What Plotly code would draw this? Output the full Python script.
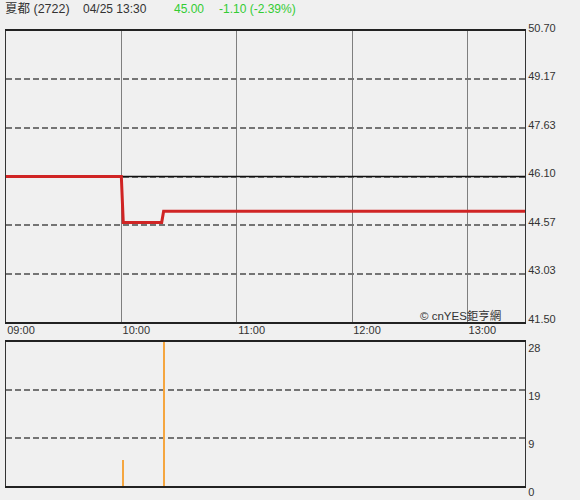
import plotly.graph_objects as go

# ---- data ----
stock_name = "夏都 (2722)"
stamp = "04/25 13:30"
last_price = "45.00"
change_text = "-1.10 (-2.39%)"
day = "2024-04-25 "

price_times = ["09:00", "10:00", "10:01", "10:21", "10:22", "13:30"]
price_values = [46.10, 46.10, 44.65, 44.65, 45.00, 45.00]
prev_close = 46.10

vol_times = ["10:01", "10:22"]
vol_values = [5, 28]

x_ticks = ["09:00", "10:00", "11:00", "12:00", "13:00"]
session = ["09:00", "13:30"]

price_tick_vals = [41.50, 43.03, 44.57, 46.10, 47.63, 49.17, 50.70]
price_tick_text = ["41.50", "43.03", "44.57", "46.10", "47.63", "49.17", "50.70"]
price_range = [41.50, 50.70]

vol_tick_vals = [0, 9.333, 18.667, 28]
vol_tick_text = ["0", "9", "19", "28"]
vol_range = [0, 28]

# ---- styles ----
BG = "#f0f0f0"
TXT = "#333333"
FONT = "Liberation Sans, Arial, Noto Sans CJK TC, sans-serif"
GREEN = "#33cc33"

fig = go.Figure()

fig.add_trace(go.Scatter(
    x=[day + t for t in session], y=[prev_close, prev_close],
    mode="lines", line=dict(color="#111111", width=1.4),
    xaxis="x", yaxis="y", hoverinfo="skip", showlegend=False))

fig.add_trace(go.Scatter(
    x=[day + t for t in price_times], y=price_values,
    mode="lines", line=dict(color="#d02424", width=3),
    xaxis="x", yaxis="y", showlegend=False))

fig.add_trace(go.Bar(
    x=[day + t for t in vol_times], y=vol_values,
    width=32000, marker=dict(color="#f5a640", line=dict(width=0)),
    xaxis="x2", yaxis="y2", showlegend=False))

xr = [day + t for t in session]
tv = [day + t for t in x_ticks]

fig.update_layout(
    width=580, height=500,
    margin=dict(l=6, r=55, t=31, b=14, autoexpand=False),
    paper_bgcolor=BG, plot_bgcolor=BG,
    font=dict(family=FONT, color=TXT, size=11),
    bargap=0,
    xaxis=dict(domain=[0, 1], anchor="y", type="date", range=xr, automargin=False,
               tickvals=tv, ticktext=x_ticks, ticklabelshift=15, ticklabelstandoff=-3,
               ticklabeloverflow="allow",
               showgrid=True, gridcolor="#7f7f7f", gridwidth=1,
               showline=True, linecolor="#222222", linewidth=1.5, mirror=True,
               ticks="", zeroline=False, tickfont=dict(size=11, color=TXT)),
    yaxis=dict(domain=[0.3604, 1], anchor="x", range=price_range, side="right",
               automargin=False, ticklabeloverflow="allow",
               tickvals=price_tick_vals, ticktext=price_tick_text, ticklabelshift=-3,
               showgrid=True, gridcolor="#747474", gridwidth=1.5, griddash="6px,3px",
               showline=True, linecolor="#333333", linewidth=1, mirror=True,
               ticks="", zeroline=False, tickfont=dict(size=11, color=TXT)),
    xaxis2=dict(domain=[0, 1], anchor="y2", type="date", range=xr, matches="x",
                automargin=False, showticklabels=False, showgrid=False,
                showline=True, linecolor="#222222", linewidth=1.5, mirror=True,
                ticks="", zeroline=False),
    yaxis2=dict(domain=[0, 0.3165], anchor="x2", range=vol_range, side="right",
                automargin=False, ticklabeloverflow="allow",
                tickvals=vol_tick_vals, ticktext=vol_tick_text, ticklabelshift=6,
                showgrid=True, gridcolor="#747474", gridwidth=1.5, griddash="6px,3px",
                showline=True, linecolor="#333333", linewidth=1, mirror=True,
                ticks="", zeroline=False, tickfont=dict(size=11, color=TXT)),
)

hy = 1.048
fig.add_annotation(x=-0.0058, y=hy, xref="paper", yref="paper", text=stock_name,
                   showarrow=False, xanchor="left", yanchor="middle",
                   font=dict(size=12.5, color=TXT, family=FONT))
fig.add_annotation(x=0.1445, y=hy, xref="paper", yref="paper", text=stamp,
                   showarrow=False, xanchor="left", yanchor="middle",
                   font=dict(size=12, color=TXT, family=FONT))
fig.add_annotation(x=0.3198, y=hy, xref="paper", yref="paper", text=last_price,
                   showarrow=False, xanchor="left", yanchor="middle",
                   font=dict(size=12, color=GREEN, family=FONT))
fig.add_annotation(x=0.4066, y=hy, xref="paper", yref="paper", text=change_text,
                   showarrow=False, xanchor="left", yanchor="middle",
                   font=dict(size=12, color=GREEN, family=FONT))
fig.add_annotation(x=0.9576, y=0.3758, xref="paper", yref="paper", text="© cnYES鉅亨網",
                   showarrow=False, xanchor="right", yanchor="middle",
                   font=dict(size=11.5, color=TXT, family=FONT))

fig.write_html("out.html", config={"displayModeBar": False},
               post_script="document.body.style.margin='0';")
